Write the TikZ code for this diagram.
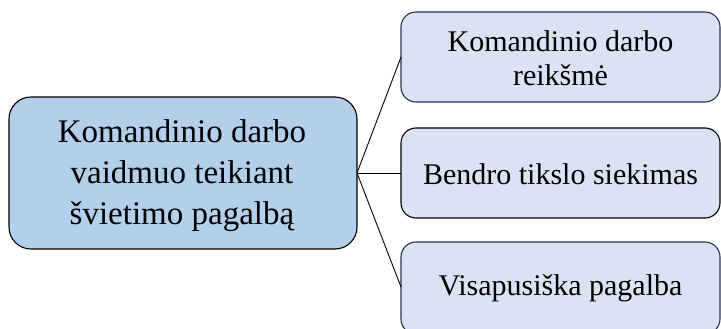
\documentclass[tikz,border=0pt]{standalone}
\usepackage{fontspec}
\setmainfont{Liberation Serif}
\definecolor{mainfill}{HTML}{B4CFEB}
\definecolor{subfill}{HTML}{DAE3F3}
\definecolor{subedge}{HTML}{26344F}
\tikzset{
  mainbox/.style={draw=black, fill=mainfill, line width=1.1pt, rounded corners=22pt},
  subbox/.style={draw=subedge, fill=subfill, line width=1.1pt, rounded corners=15pt},
  link/.style={draw=black, line width=0.9pt},
  maintext/.style={align=center, font=\fontsize{33}{41}\selectfont},
  subtext/.style={align=center, font=\fontsize{30}{34}\selectfont},
}
\begin{document}
\begin{tikzpicture}[x=1pt, y=-1pt]
\useasboundingbox (0,0) rectangle (721,329);
% central topic
\draw[mainbox] (9,97) rectangle (357,249);
\node[maintext] (main) at (182,176) {Komandinio darbo\\vaidmuo teikiant\\švietimo pagalbą};
\coordinate (hub) at (357,173);
% branches
\draw[subbox] (401,12) rectangle (720,102);
\node[subtext] (b1) at (560.5,58) {Komandinio darbo\\reikšmė};
\draw[subbox, draw=black] (401,128) rectangle (720,218);
\node[subtext] (b2) at (560.5,174) {Bendro tikslo siekimas};
\draw[subbox] (401,242) rectangle (720,334);
\node[subtext] (b3) at (560.5,288) {Visapusiška pagalba};
\coordinate (e1) at (401,57);
\coordinate (e2) at (401,173);
\coordinate (e3) at (401,287);
% connectors
\draw[link] (hub) -- (e1);
\draw[link] (hub) -- (e2);
\draw[link] (hub) -- (e3);
\end{tikzpicture}
\end{document}
